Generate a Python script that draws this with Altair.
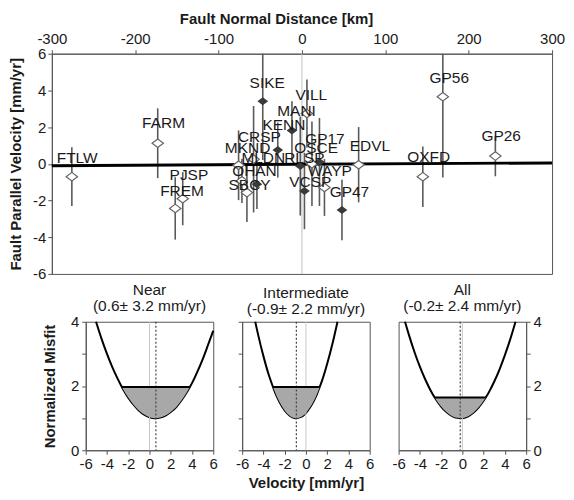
import altair as alt
import pandas as pd

FONT = "Liberation Sans"
INK = "#1a1a1a"

# ---------------- top panel data ----------------
stations = ["FTLW", "FARM", "PJSP", "FREM", "SIKE", "VILL", "MANI", "KENN", "CRSP", "MKND",
            "MLDN", "RLSP", "OHAN", "SBCY", "GP17", "OSCE", "EDVL", "WAYP", "VCSP", "GP47",
            "OXFD", "GP56", "GP26"]
dist_km = [-276, -173, -143, -152, -47, 6, -12, -29, -58, -76,
           -66, -2, -72, -54, 21, 12, 68, 27, 3, 48,
           145, 169, 232]
velocity = [-0.70, 1.12, -1.90, -2.43, 3.41, 2.74, 1.81, 0.75, 0.25, -0.08,
            -1.57, -0.12, -0.93, -1.11, 0.10, 0.00, -0.05, -1.29, -1.48, -2.52,
            -0.70, 3.65, 0.42]
sigma = [1.60, 1.90, 1.45, 1.70, 3.20, 1.85, 1.60, 1.50, 2.90, 1.90,
         1.60, 2.70, 1.20, 1.35, 2.40, 2.30, 2.05, 1.55, 2.08, 1.65,
         1.65, 4.40, 1.10]
near_field = [False, False, False, False, True, False, True, True, False, False,
              False, True, False, True, True, False, False, False, True, True,
              False, False, False]
label_km = [-269.6, -166.0, -135.6, -143.8, -41.7, 11.2, -6.5, -21.7, -51.1, -65.2,
            -46.4, 2.9, -57.0, -62.8, 27.6, 17.0, 81.6, 33.5, 10.0, 57.0,
            152.0, 176.7, 238.9]
label_vel = [0.31, 2.20, -0.62, -1.49, 4.42, 3.77, 2.85, 2.09, 1.44, 0.84,
             0.30, 0.30, -0.39, -1.17, 1.33, 0.84, 0.95, -0.41, -1.00, -1.55,
             0.35, 4.70, 1.49]

fit_km = [-300, 300]
fit_vel = [-0.10, 0.05]

km_ticks = [-300, -200, -100, 0, 100, 200, 300]
vel_ticks = [-6, -4, -2, 0, 2, 4, 6]

# ---------------- misfit panels data ----------------
panel_names = ["Near", "Intermediate", "All"]
panel_notes = ["(0.6\u00b1 3.2 mm/yr)", "(-0.9\u00b1 2.2 mm/yr)", "(-0.2\u00b1 2.4 mm/yr)"]
best_v = [0.6, -0.9, -0.2]
half_w = [3.2, 2.2, 2.4]
level = [1.97, 1.97, 1.64]
curve_v = [
    [-5.03, -4.5, -4.0, -3.5, -3.0, -2.6, -2.5, -2.0, -1.5, -1.0, -0.5, 0.0, 0.5,
     1.0, 1.5, 2.0, 2.5, 3.0, 3.5, 3.8, 4.0, 4.5, 5.0, 5.5, 6.0],
    [-4.77, -4.5, -4.0, -3.5, -3.1, -3.0, -2.5, -2.0, -1.5, -1.0, -0.5, 0.0, 0.5,
     1.0, 1.3, 1.5, 2.0, 2.5, 2.97],
    [-5.4, -5.0, -4.5, -4.0, -3.5, -3.0, -2.6, -2.5, -2.0, -1.5, -1.0, -0.5, 0.0,
     0.5, 1.0, 1.5, 2.0, 2.2, 2.5, 3.0, 3.5, 4.0, 4.5, 5.0],
]
curve_m = [
    [4.00, 3.46, 3.00, 2.59, 2.23, 1.97, 1.91, 1.64, 1.42, 1.24, 1.11, 1.03, 1.00,
     1.02, 1.08, 1.19, 1.34, 1.55, 1.80, 1.97, 2.09, 2.44, 2.83, 3.27, 3.72],
    [4.00, 3.60, 2.93, 2.35, 1.97, 1.88, 1.51, 1.24, 1.07, 1.00, 1.03, 1.16, 1.39,
     1.72, 1.97, 2.15, 2.69, 3.32, 4.00],
    [4.00, 3.56, 3.05, 2.60, 2.21, 1.87, 1.64, 1.59, 1.36, 1.19, 1.07, 1.01, 1.00,
     1.05, 1.16, 1.32, 1.54, 1.64, 1.81, 2.14, 2.52, 2.96, 3.45, 4.00],
]
misfit_ticks = [0, 1, 2, 3, 4]
v_ticks = [-6, -4, -2, 0, 2, 4, 6]

DIAMOND = "M-1,0L0,-0.75L1,0L0,0.75Z"
PLAIN = "datum.value + ''"
EVEN = "datum.value % 2 == 0 ? datum.value + '' : ''"

# ---------------- top chart ----------------
st = pd.DataFrame({"name": stations, "km": dist_km, "vel": velocity, "err": sigma,
                   "filled": near_field, "lkm": label_km, "lvel": label_vel})
st["lo"] = (st["vel"] - st["err"]).clip(lower=-6)
st["hi"] = (st["vel"] + st["err"]).clip(upper=6)

xs = alt.Scale(domain=[-300, 300], nice=False, zero=False)
ys = alt.Scale(domain=[-6, 6], nice=False, zero=False)
X_AX = alt.Axis(orient="top", values=km_ticks, labelExpr=PLAIN,
                title="Fault Normal Distance [km]", tickSize=4,
                labelPadding=3, titlePadding=5, labelFlush=False, labelOverlap=False,
                titleX=225)
Y_AX = alt.Axis(orient="left", values=vel_ticks, labelExpr=PLAIN,
                title="Fault Parallel Velocity [mm/yr]",
                tickSize=4, labelPadding=2, minExtent=21, maxExtent=21, titlePadding=7)


def tx(field):
    return alt.X(field, type="quantitative", scale=xs, axis=X_AX)


def ty(field):
    return alt.Y(field, type="quantitative", scale=ys, axis=Y_AX)


base = alt.Chart(st)

zero_line = alt.Chart(pd.DataFrame({"km": [0]})).mark_rule(
    color="#c0c0c0", strokeWidth=1).encode(x=tx("km"))

bars = base.mark_rule(color="#5a5a5a", strokeWidth=1.6).encode(
    x=tx("km"), y=ty("lo"), y2="hi:Q")

fit = alt.Chart(pd.DataFrame({"km": fit_km, "vel": fit_vel})).mark_line(
    color="black", strokeWidth=3).encode(x=tx("km"), y=ty("vel"))

open_pts = base.transform_filter("!datum.filled").mark_point(
    shape=DIAMOND, size=130, filled=True, fill="white", stroke="#666666", strokeWidth=1.2,
    opacity=1).encode(x=tx("km"), y=ty("vel"))

filled_pts = base.transform_filter("datum.filled").mark_point(
    shape=DIAMOND, size=115, filled=True, color="#3a3a3a", opacity=1).encode(
    x=tx("km"), y=ty("vel"))

labels = base.mark_text(font=FONT, fontSize=15.5, color=INK).encode(
    x=tx("lkm"), y=ty("lvel"), text="name:N")

top = alt.layer(zero_line, bars, fit, open_pts, filled_pts, labels).properties(
    width=502, height=221)


# ---------------- misfit panels ----------------
def panel(i):
    xs2 = alt.Scale(domain=[-6, 6], nice=False, zero=False)
    ys2 = alt.Scale(domain=[0, 4], nice=False, zero=False)
    cdf = pd.DataFrame({"v": curve_v[i], "m": curve_m[i]})
    lo = best_v[i] - half_w[i]
    hi = best_v[i] + half_w[i]

    if i == 0:
        y_ax = alt.Axis(values=misfit_ticks, labelExpr=EVEN,
                        title="Normalized Misfit", tickSize=4, labelPadding=3,
                        minExtent=16, maxExtent=16, titlePadding=12)
    elif i == 1:
        y_ax = alt.Axis(values=misfit_ticks, labels=False, tickSize=4, title="")
    else:
        y_ax = alt.Axis(orient="right", values=misfit_ticks, labelExpr=EVEN,
                        tickSize=4, labelPadding=3, title="")
    x_ax = alt.Axis(values=v_ticks, labelExpr=PLAIN, tickSize=4, labelPadding=2,
                    labelFlush=False, labelOverlap=False, titlePadding=4,
                    title="Velocity [mm/yr]" if i == 1 else "")

    def px(field):
        return alt.X(field, type="quantitative", scale=xs2, axis=x_ax)

    def py(field):
        return alt.Y(field, type="quantitative", scale=ys2, axis=y_ax)

    zero = alt.Chart(pd.DataFrame({"v": [0]})).mark_rule(
        color="#c8c8c8", strokeWidth=1).encode(x=px("v"))

    area = alt.Chart(cdf).transform_filter(f"datum.m <= {level[i] + 0.005}").mark_area(
        color="#a8a8a8", interpolate="monotone", opacity=1).encode(
        x=px("v"), y=py("m"), y2=alt.datum(level[i]))

    dotted = alt.Chart(pd.DataFrame({"v": [best_v[i]]})).mark_rule(
        color="#444444", strokeDash=[2, 2], strokeWidth=1.2).encode(x=px("v"))

    curve = alt.Chart(cdf).mark_line(color="black", strokeWidth=2,
                                     interpolate="monotone").encode(x=px("v"), y=py("m"))

    lvl = alt.Chart(pd.DataFrame({"a": [lo], "b": [hi], "m": [level[i]]})).mark_rule(
        color="black", strokeWidth=2).encode(x=px("a"), x2="b:Q", y=py("m"))

    return alt.layer(curve, zero, area, dotted, lvl).properties(
        width=128, height=129,
        title=alt.TitleParams(text=[panel_names[i], panel_notes[i]], font=FONT,
                              fontSize=15.5, fontWeight="normal", color=INK,
                              lineHeight=16, offset=0, anchor="middle"))


spacer = alt.Chart(pd.DataFrame({"a": [0]})).mark_point(opacity=0).encode(
    x=alt.X("a:Q", axis=None), y=alt.Y("a:Q", axis=None)).properties(
    width=5, height=129, view=alt.ViewBackground(strokeOpacity=0))

bottom = alt.hconcat(spacer, panel(0), panel(1), panel(2), spacing=29, bounds="flush")

chart = alt.vconcat(top, bottom, spacing=0).properties(
    padding={"left": 0, "top": 2, "right": 0, "bottom": 0}
).configure(font=FONT).configure_axis(
    labelFont=FONT, labelFontSize=15, labelColor=INK,
    titleFont=FONT, titleFontSize=15, titleFontWeight="bold", titleColor=INK,
    domainColor="#555555", tickColor="#555555", grid=False,
).configure_view(stroke="#555555", strokeWidth=1)

chart.save("out.html", embed_options={"renderer": "svg", "actions": False})
